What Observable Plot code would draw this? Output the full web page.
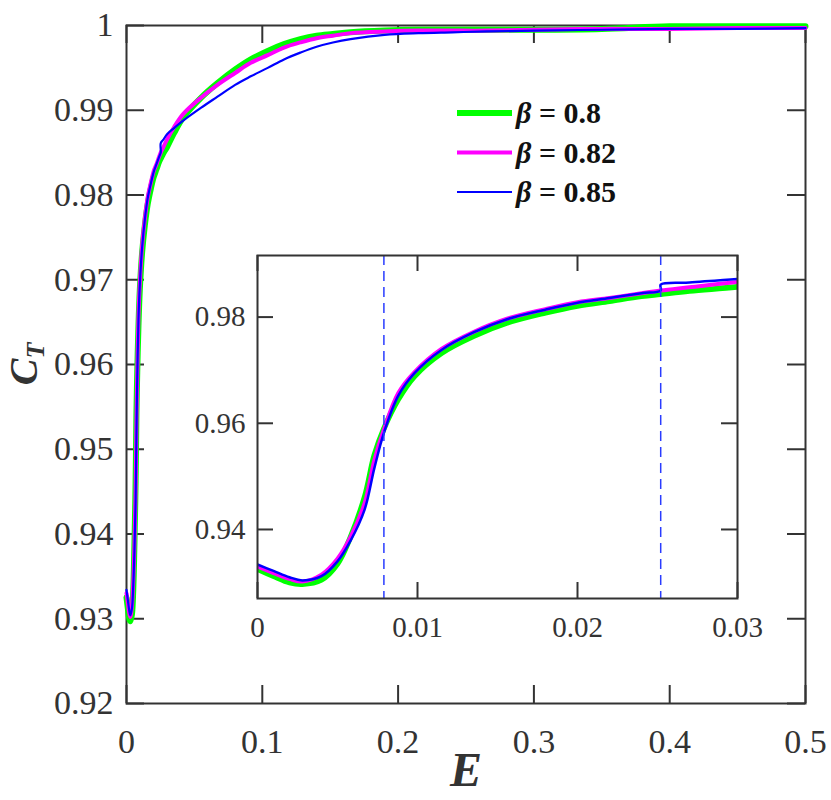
<!DOCTYPE html>
<html>
<head>
<meta charset="utf-8">
<script src="https://cdn.jsdelivr.net/npm/d3@7"></script>
<script src="https://cdn.jsdelivr.net/npm/@observablehq/plot@0.6"></script>
<style>
  body { margin: 0; background: #fff; }
  #wrap { position: relative; width: 831px; height: 800px; overflow: hidden; }
  #wrap > svg { position: absolute; }
</style>
</head>
<body>
<div id="wrap"></div>
<script>
// ---- data ----
const eGrid = [0, 0.001, 0.002, 0.0028, 0.004, 0.005, 0.0058, 0.0067, 0.0073, 0.0079, 0.0088, 0.0098, 0.0115, 0.0135, 0.0156, 0.018, 0.02, 0.022, 0.024, 0.0252, 0.027, 0.03, 0.035, 0.042, 0.055, 0.067, 0.08, 0.0915, 0.104, 0.116, 0.128, 0.14, 0.152, 0.165, 0.19, 0.215, 0.24, 0.265, 0.3, 0.35, 0.4, 0.45, 0.5];
const cBeta080 = [0.9325, 0.9312, 0.9300, 0.9297, 0.9305, 0.9335, 0.9385, 0.9462, 0.9540, 0.9590, 0.9645, 0.9688, 0.9732, 0.9764, 0.9789, 0.9808, 0.9821, 0.9830, 0.9839, 0.9843, 0.9849, 0.9857, 0.9873, 0.9892, 0.9915, 0.9932, 0.9948, 0.9960, 0.9970, 0.9978, 0.9984, 0.9988, 0.9990, 0.9992, 0.9994, 0.9995, 0.9995, 0.9995, 0.9995, 0.9996, 0.9999, 0.9999, 0.9999];
const cBeta082 = [0.9330, 0.9318, 0.9307, 0.9302, 0.9315, 0.9345, 0.9385, 0.9450, 0.9530, 0.9588, 0.9657, 0.9696, 0.9740, 0.9772, 0.9797, 0.9815, 0.9828, 0.9836, 0.9845, 0.9850, 0.9856, 0.9866, 0.9880, 0.9896, 0.9915, 0.9930, 0.9944, 0.9956, 0.9965, 0.9974, 0.9980, 0.9985, 0.9988, 0.9991, 0.9993, 0.9994, 0.9994, 0.9994, 0.9995, 0.9996, 0.9996, 0.9997, 0.9997];
const eBlue = [0, 0.001, 0.002, 0.0028, 0.004, 0.005, 0.0058, 0.0067, 0.0073, 0.0079, 0.0088, 0.0098, 0.0115, 0.0135, 0.0156, 0.018, 0.02, 0.022, 0.024, 0.0252, 0.0252, 0.027, 0.03, 0.035, 0.042, 0.055, 0.067, 0.08, 0.0915, 0.104, 0.116, 0.128, 0.14, 0.152, 0.165, 0.19, 0.215, 0.24, 0.265, 0.3, 0.35, 0.4, 0.45, 0.5];
const cBeta085 = [0.9334, 0.9322, 0.9310, 0.9304, 0.9312, 0.9340, 0.9378, 0.9438, 0.9515, 0.9582, 0.9652, 0.9694, 0.9738, 0.9771, 0.9796, 0.9814, 0.9827, 0.9836, 0.9845, 0.9850, 0.9861, 0.9865, 0.9872, 0.9879, 0.9888, 0.9903, 0.9916, 0.9930, 0.9940, 0.9950, 0.9960, 0.9968, 0.9975, 0.9980, 0.9984, 0.9989, 0.9991, 0.9992, 0.9993, 0.9994, 0.9995, 0.9996, 0.9996, 0.9997];

const seriesNames = ["β = 0.8", "β = 0.82", "β = 0.85"];
const seriesColors = ["#00ff00", "#ff00ff", "#0000ff"];
const seriesWidthsMain = [6, 4, 2.2];
const seriesWidthsInset = [5.5, 4, 2.5];

const xTicksMain = [0, 0.1, 0.2, 0.3, 0.4, 0.5];
const yTicksMain = [0.92, 0.93, 0.94, 0.95, 0.96, 0.97, 0.98, 0.99, 1];
const xTicksInset = [0, 0.01, 0.02, 0.03];
const yTicksInset = [0.94, 0.96, 0.98];
const dashedE = [0.0079, 0.0252];

const series = [
  eGrid.map((e, i) => ({E: e, C: cBeta080[i]})),
  eGrid.map((e, i) => ({E: e, C: cBeta082[i]})),
  eBlue.map((e, i) => ({E: e, C: cBeta085[i]}))
];

const fmt = d => String(+d.toFixed(3));
const ink = "#333";
const wrap = document.getElementById("wrap");

// ---- main chart ----
const M = {left: 126, right: 26, top: 25, bottom: 97};
const W = 831, H = 800;
const pw = W - M.left - M.right, ph = H - M.top - M.bottom;
const tk = 18;

const main = Plot.plot({
  width: W, height: H,
  marginLeft: M.left, marginRight: M.right, marginTop: M.top, marginBottom: M.bottom,
  style: {fontFamily: "Liberation Serif", fontSize: "34px", color: ink, background: "transparent"},
  x: {domain: [0, 0.5]},
  y: {domain: [0.92, 1]},
  marks: [
    Plot.frame({stroke: ink, strokeWidth: 2}),
    Plot.axisX(xTicksMain, {tickSize: 0, tickPadding: 25, tickFormat: fmt, label: null, fill: ink}),
    Plot.axisY(yTicksMain, {tickSize: 0, tickPadding: 13, tickFormat: fmt, label: null, fill: ink}),
    Plot.tickX(xTicksMain, {x: d => d, insetTop: ph - tk, stroke: ink, strokeWidth: 2}),
    Plot.tickX(xTicksMain, {x: d => d, insetBottom: ph - tk, stroke: ink, strokeWidth: 2}),
    Plot.tickY(yTicksMain, {y: d => d, insetRight: pw - tk, stroke: ink, strokeWidth: 2}),
    Plot.tickY(yTicksMain, {y: d => d, insetLeft: pw - tk, stroke: ink, strokeWidth: 2}),
    ...series.map((s, i) => Plot.line(s, {x: "E", y: "C", stroke: seriesColors[i], strokeWidth: seriesWidthsMain[i], curve: "catmull-rom"}))
  ]
});
main.style.left = "0px"; main.style.top = "0px";
wrap.appendChild(main);

// ---- inset chart ----
const IM = {left: 80, right: 40, top: 5, bottom: 45};
const iw = 480, ih = 343;
const itk = 16;
const inset = Plot.plot({
  width: IM.left + iw + IM.right, height: IM.top + ih + IM.bottom,
  marginLeft: IM.left, marginRight: IM.right, marginTop: IM.top, marginBottom: IM.bottom,
  style: {fontFamily: "Liberation Serif", fontSize: "29px", color: ink, background: "transparent"},
  x: {domain: [0, 0.03]},
  y: {domain: [0.927, 0.9916]},
  marks: [
    Plot.frame({fill: "white"}),
    ...series.map((s, i) => Plot.line(s.filter(d => d.E <= 0.035), {x: "E", y: "C", stroke: seriesColors[i], strokeWidth: seriesWidthsInset[i], curve: "catmull-rom", clip: true})),
    Plot.ruleX(dashedE, {x: d => d, stroke: "#2a3cff", strokeWidth: 1.5, strokeDasharray: "10,6"}),
    Plot.frame({stroke: ink, strokeWidth: 2}),
    Plot.axisX(xTicksInset, {tickSize: 0, tickPadding: 18, tickFormat: fmt, label: null, fill: ink}),
    Plot.axisY(yTicksInset, {tickSize: 0, tickPadding: 12, tickFormat: fmt, label: null, fill: ink}),
    Plot.tickX(xTicksInset, {x: d => d, insetTop: ih - itk, stroke: ink, strokeWidth: 2}),
    Plot.tickX(xTicksInset, {x: d => d, insetBottom: ih - itk, stroke: ink, strokeWidth: 2}),
    Plot.tickY(yTicksInset, {y: d => d, insetRight: iw - itk, stroke: ink, strokeWidth: 2}),
    Plot.tickY(yTicksInset, {y: d => d, insetLeft: iw - itk, stroke: ink, strokeWidth: 2})
  ]
});
inset.style.left = (257 - IM.left) + "px"; inset.style.top = (255 - IM.top) + "px";
wrap.appendChild(inset);

// ---- legend and axis titles (overlay) ----
const ov = d3.select(wrap).append("svg")
  .attr("width", W).attr("height", H)
  .style("left", "0px").style("top", "0px")
  .style("font-family", "Liberation Serif");

const lg = ov.append("g");
seriesNames.forEach((name, i) => {
  const y = 113 + i * 39.5;
  lg.append("line").attr("x1", 457).attr("x2", 512).attr("y1", y).attr("y2", y)
    .attr("stroke", seriesColors[i]).attr("stroke-width", seriesWidthsMain[i]);
  const t = lg.append("text").attr("x", 516).attr("y", y + 10)
    .attr("font-size", 30).attr("font-weight", "bold").attr("fill", "#111");
  const parts = name.split(" = ");
  t.append("tspan").attr("font-style", "italic").text(parts[0]);
  t.append("tspan").text(" = " + parts[1]);
});

ov.append("text").attr("x", 466).attr("y", 786).attr("text-anchor", "middle")
  .attr("font-size", 48).attr("font-weight", "bold").attr("font-style", "italic").attr("fill", ink)
  .text("E");

const yl = ov.append("text").attr("transform", "translate(37,364) rotate(-90)")
  .attr("text-anchor", "middle").attr("font-size", 40).attr("font-style", "italic").attr("font-weight", "bold").attr("fill", ink);
yl.append("tspan").text("C");
yl.append("tspan").attr("font-size", 26).attr("dy", 7).text("T");
</script>
</body>
</html>
